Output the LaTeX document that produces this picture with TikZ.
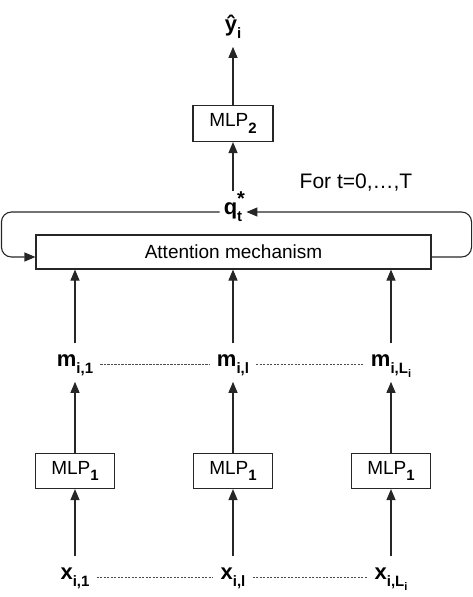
\documentclass[tikz,border=0pt]{standalone}
\usepackage{fontspec}
\setmainfont{Liberation Sans}
\usetikzlibrary{arrows.meta}
\newcommand\lsub[1]{\raisebox{-0.33em}{\fontsize{15}{15}\selectfont #1}}
\newcommand\lsubsub[1]{\raisebox{-0.22em}{\fontsize{11}{11}\selectfont #1}}
\newcommand\lsup[1]{\raisebox{0.42em}{\fontsize{20}{20}\selectfont #1}}
\tikzset{
    block/.style={draw=black!85, line width=1.1pt, minimum width=79pt, minimum height=35pt,
        inner sep=0pt, font=\fontsize{19}{22}\selectfont},
    var/.style={anchor=mid, inner sep=4pt, text height=19pt, text depth=11pt,
        font=\fontsize{22}{24}\selectfont\bfseries},
    flow/.style={-{Triangle[length=11pt,width=9pt]}, line width=1.1pt, black!85},
    dots/.style={dash pattern=on 2.2pt off 1.3pt, line width=0.7pt, black!70, shorten <=3pt, shorten >=3pt}
}
\begin{document}
\begin{tikzpicture}[x=1pt,y=-1pt]
    \useasboundingbox (0,0) rectangle (473,597);
    \node[block, minimum width=395pt, minimum height=34pt] (att) at (233.5,252) {Attention mechanism};
    \foreach \n/\c/\s in {1/75/1, l/233/l, L/391/{L\lsubsub{i}}}{
        \node[var] (x\n) at (\c,577) {x\lsub{i,\s}};
        \node[block] (mlp\n) at (\c,471) {MLP\lsub{\bfseries 1}};
        \node[var] (m\n) at (\c,364) {m\lsub{i,\s}};
        \draw[flow] (x\n) -- (mlp\n);
        \draw[flow] (mlp\n) -- (m\n);
        \draw[flow] (m\n) -- (att.south -| m\n);
    };
    \draw[dots] (x1.mid east) -- (xl.mid west);
    \draw[dots] (xl.mid east) -- (xL.mid west);
    \draw[dots] (m1.mid east) -- (ml.mid west);
    \draw[dots] (ml.mid east) -- (mL.mid west);
    \node[var] (q) at (233,212) {q\rlap{\lsup{*}}\lsub{t}};
    \node[block, minimum width=80pt, minimum height=36pt] (mlp2) at (233,123.5) {MLP\lsub{\bfseries 2}};
    \node[var] (yhat) at (233,29) {ŷ\lsub{i}};
    \node[font=\fontsize{21}{24}\selectfont] (iter) at (356,183) {For t=0,…,T};
    \draw[flow] (q) -- (mlp2);
    \draw[flow] (mlp2) -- (yhat);
    \draw[flow, rounded corners=10pt] (q.mid west) -| ([xshift=-34pt,yshift=-5pt]att.west) -- ([yshift=-5pt]att.west);
    \draw[flow, rounded corners=10pt] ([yshift=-5pt]att.east) -| ([xshift=40pt]att.east |- q.mid east) -- (q.mid east);
\end{tikzpicture}
\end{document}
